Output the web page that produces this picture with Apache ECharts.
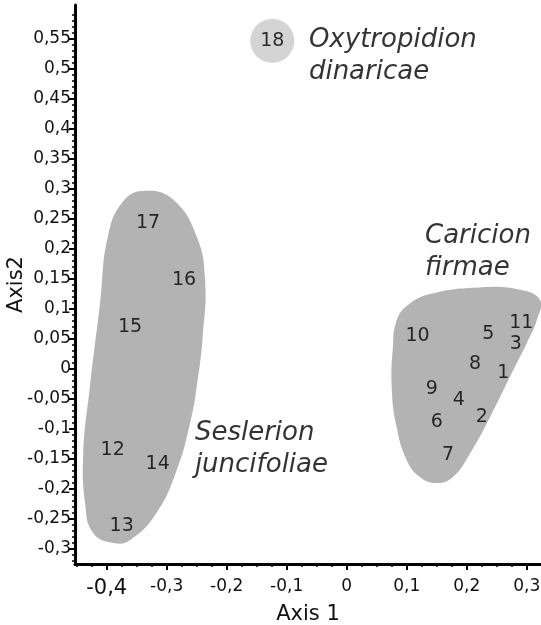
<!DOCTYPE html>
<html><head><meta charset="utf-8">
<script src="https://cdn.jsdelivr.net/npm/echarts@6/dist/echarts.min.js"></script>
<style>html,body{margin:0;padding:0;background:#fff}#c{width:541px;height:625px}</style>
</head><body><div id="c"></div>
<script>
// ---- data ----
const siteIds     = ['1','2','3','4','5','6','7','8','9','10','11','12','13','14','15','16','17','18'];
const axis1Scores = [0.261,0.225,0.282,0.187,0.236,0.150,0.169,0.214,0.142,0.118,0.291,-0.390,-0.375,-0.315,-0.361,-0.271,-0.331,-0.124];
const axis2Scores = [-0.007,-0.080,0.042,-0.051,0.059,-0.088,-0.143,0.008,-0.033,0.055,0.077,-0.135,-0.262,-0.158,0.070,0.148,0.243,0.547];
const circledSites = ['18'];

const groupNames = ['Oxytropidion\ndinaricae','Caricion\nfirmae','Seslerion\njuncifoliae'];
const groupLabelX = [-0.063, 0.1305, -0.253];
const groupLabelY = [0.521, 0.194, -0.133];

const seslerionHull = [[-0.335,0.297],[-0.289,0.282],[-0.25,0.221],[-0.236,0.148],[-0.240,0.054],[-0.25,-0.030],[-0.261,-0.090],[-0.283,-0.168],[-0.317,-0.240],[-0.361,-0.285],[-0.389,-0.290],[-0.423,-0.273],[-0.436,-0.223],[-0.439,-0.140],[-0.428,-0.030],[-0.411,0.110],[-0.398,0.221],[-0.372,0.280]];
const caricionHull = [[0.100,0.105],[0.139,0.125],[0.222,0.136],[0.289,0.132],[0.322,0.115],[0.317,0.082],[0.300,0.043],[0.272,-0.013],[0.239,-0.080],[0.206,-0.140],[0.177,-0.180],[0.150,-0.190],[0.122,-0.180],[0.100,-0.152],[0.083,-0.096],[0.075,-0.030],[0.077,0.037],[0.083,0.080]];
const hulls = [seslerionHull, caricionHull];

const xTickValues = [-0.4,-0.3,-0.2,-0.1,0,0.1,0.2,0.3];
const yTickValues = [-0.3,-0.25,-0.2,-0.15,-0.1,-0.05,0,0.05,0.1,0.15,0.2,0.25,0.3,0.35,0.4,0.45,0.5,0.55];
const bigXLabel = -0.4;

// ---- layout ----
const X_MIN = -0.4528, X_MAX = 0.3238, Y_MIN = -0.325, Y_MAX = 0.6067;
const FONT = 'DejaVu Sans';
const xMinor = []; for (let i = -18; i <= 13; i++) if (i % 4 !== 0) xMinor.push(+(i*0.025).toFixed(3));
const yMinor = []; for (let i = -32; i <= 60; i++) if (i % 5 !== 0) yMinor.push(i/100);
const fmt = v => String(+v.toFixed(3)).replace('.', ',');

const plain = [], circled = [];
siteIds.forEach((id, i) => {
  const item = { name: id, value: [axis1Scores[i], axis2Scores[i]] };
  (circledSites.includes(id) ? circled : plain).push(item);
});

const chart = echarts.init(document.getElementById('c'), null, {renderer: 'canvas'});
chart.setOption({
  animation: false,
  textStyle: { fontFamily: FONT },
  grid: { left: 75, right: 0, top: 5, bottom: 61, containLabel: false, outerBoundsMode: 'none' },
  xAxis: [{
    type: 'value', min: X_MIN, max: X_MAX, position: 'bottom',
    name: 'Axis 1', nameLocation: 'middle', nameGap: 38,
    nameTextStyle: { fontSize: 21, color: '#111', fontFamily: FONT },
    axisLine: { show: true, onZero: false, lineStyle: { color: '#000', width: 3 } },
    axisTick: { show: true, customValues: xTickValues, length: 6, lineStyle: { color: '#000', width: 2 } },
    axisLabel: { customValues: xTickValues, margin: 14, fontSize: 17, color: '#111', fontFamily: FONT,
      formatter: v => Math.abs(v - bigXLabel) < 1e-9 ? '{big|' + fmt(v) + '}' : fmt(v),
      rich: { big: { fontSize: 21, color: '#111', fontFamily: FONT } } },
    splitLine: { show: false }
  }, {
    type: 'value', min: X_MIN, max: X_MAX, position: 'bottom', gridIndex: 0,
    axisLine: { show: false, onZero: false },
    axisTick: { show: true, customValues: xMinor, length: 3, lineStyle: { color: '#000', width: 1.5 } },
    axisLabel: { show: false }, splitLine: { show: false }
  }],
  yAxis: [{
    type: 'value', min: Y_MIN, max: Y_MAX, position: 'left',
    name: 'Axis2', nameLocation: 'middle', nameGap: 48, nameMoveOverlap: false,
    nameTextStyle: { fontSize: 21, color: '#111', fontFamily: FONT },
    axisLine: { show: true, onZero: false, lineStyle: { color: '#000', width: 3 } },
    axisTick: { show: true, customValues: yTickValues, length: 6, lineStyle: { color: '#000', width: 2 } },
    axisLabel: { customValues: yTickValues, margin: 4, fontSize: 17, color: '#111', fontFamily: FONT, formatter: v => fmt(v) },
    splitLine: { show: false }
  }, {
    type: 'value', min: Y_MIN, max: Y_MAX, position: 'left', gridIndex: 0,
    axisLine: { show: false, onZero: false },
    axisTick: { show: true, customValues: yMinor, length: 3, lineStyle: { color: '#000', width: 1.5 } },
    axisLabel: { show: false }, splitLine: { show: false }
  }],
  series: [{
    type: 'custom', clip: true, z: 1,
    data: hulls.map((h, i) => [i]),
    renderItem: (params, api) => {
      const h = hulls[api.value(0)];
      return { type: 'polygon', shape: { points: h.map(p => api.coord(p)), smooth: 0.45 },
               style: { fill: '#b3b3b3' } };
    }
  }, {
    type: 'scatter', z: 3, symbolSize: 0, data: plain,
    label: { show: true, position: 'inside', formatter: p => p.name, fontSize: 19, color: '#000', fontFamily: FONT },
    emphasis: { disabled: true }
  }, {
    type: 'scatter', z: 3, symbolSize: 44, data: circled,
    itemStyle: { color: '#c9c9c9' },
    label: { show: true, position: 'inside', formatter: p => p.name, fontSize: 19, color: '#000', fontFamily: FONT },
    emphasis: { disabled: true }
  }, {
    type: 'scatter', z: 3, symbolSize: 0,
    data: groupNames.map((n, i) => ({ name: n, value: [groupLabelX[i], groupLabelY[i]] })),
    label: { show: true, position: 'right', distance: 0, formatter: p => p.name, fontSize: 26, lineHeight: 32,
             fontStyle: 'italic', color: '#000', fontFamily: FONT, align: 'left' },
    emphasis: { disabled: true }
  }]
});
</script></body></html>
